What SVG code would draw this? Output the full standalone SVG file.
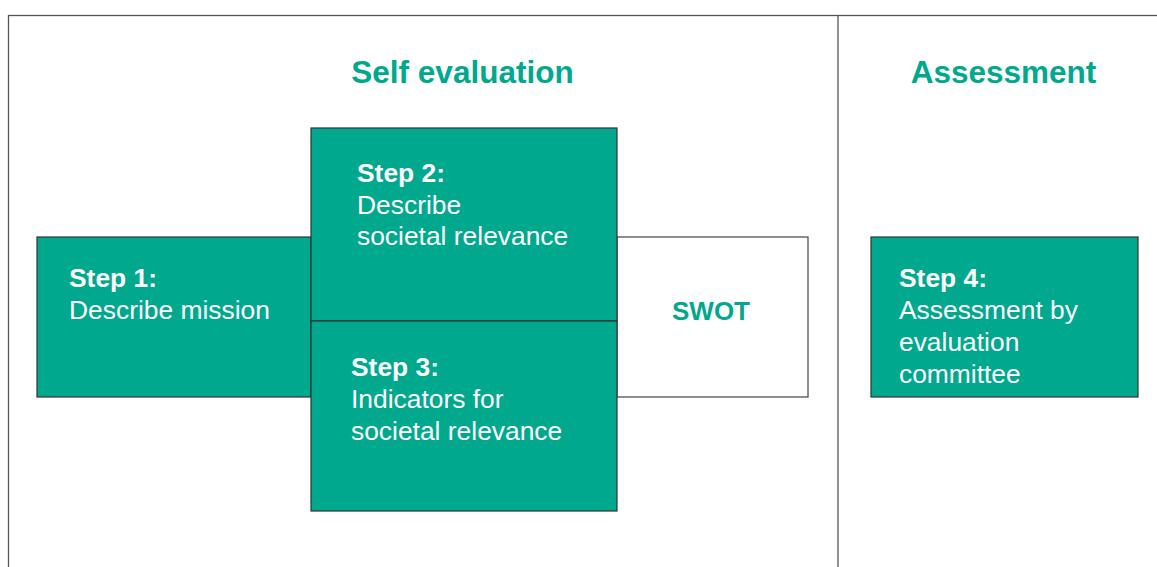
<svg xmlns="http://www.w3.org/2000/svg" width="1157" height="567" viewBox="0 0 1157 567">
<style>
.box{fill:#00A88E;stroke:#333;stroke-width:1.2}
.wbox{fill:#fff;stroke:#444;stroke-width:1.2}
.frame{fill:none;stroke:#555;stroke-width:1.3}
text{font-family:"Liberation Sans",Arial,sans-serif}
.title{font-size:31.5px;font-weight:bold;fill:#00A88E;text-anchor:middle}
.t{font-size:26.4px;fill:#fff}
.b{font-weight:bold}
.swot{font-size:26px;font-weight:bold;fill:#00A88E;text-anchor:middle}
</style>
<rect width="1157" height="567" fill="#fff"/>
<g id="frame">
<rect class="frame" x="8.5" y="15.5" width="1200" height="600"/>
<line class="frame" x1="838" y1="15" x2="838" y2="567"/>
</g>
<g id="titles">
<text class="title" x="462.5" y="82.5">Self evaluation</text>
<text class="title" x="1003.5" y="82.5">Assessment</text>
</g>
<g id="step1">
<rect class="box" x="37" y="237" width="274" height="160"/>
<text class="t" x="69" y="287"><tspan class="b">Step 1:</tspan><tspan x="69" y="318.5">Describe mission</tspan></text>
</g>
<g id="swot">
<rect class="wbox" x="617" y="237" width="191" height="160"/>
<text class="swot" x="711" y="320">SWOT</text>
</g>
<g id="step2">
<rect class="box" x="311" y="128" width="306" height="193"/>
<text class="t" x="357" y="182"><tspan class="b">Step 2:</tspan><tspan x="357" y="213.5">Describe</tspan><tspan x="357" y="245">societal relevance</tspan></text>
</g>
<g id="step3">
<rect class="box" x="311" y="321" width="306" height="190"/>
<text class="t" x="351" y="376"><tspan class="b">Step 3:</tspan><tspan x="351" y="408">Indicators for</tspan><tspan x="351" y="440">societal relevance</tspan></text>
</g>
<g id="step4">
<rect class="box" x="871" y="237" width="267" height="160"/>
<text class="t" x="899" y="287"><tspan class="b">Step 4:</tspan><tspan x="899" y="318.5">Assessment by</tspan><tspan x="899" y="350.5">evaluation</tspan><tspan x="899" y="382.5">committee</tspan></text>
</g>
<g id="connectors"></g>
</svg>
